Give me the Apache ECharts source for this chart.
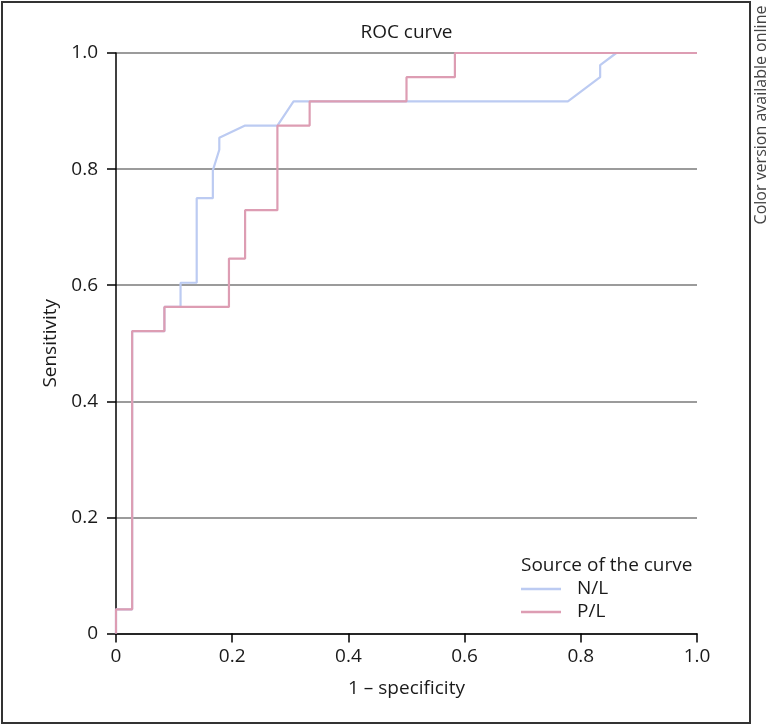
<!DOCTYPE html>
<html>
<head>
<meta charset="utf-8">
<script src="https://cdn.jsdelivr.net/npm/echarts@6/dist/echarts.min.js"></script>
<style>
html,body{margin:0;padding:0;background:#fff;}
#c{width:768px;height:725px;}
</style>
</head>
<body>
<div id="c"></div>
<script>
// Data (36 negatives, 48 positives)
const seriesNames = ['N/L', 'P/L'];
const nlX = [0, 0, 0.0278, 0.0278, 0.0833, 0.0833, 0.1111, 0.1111, 0.1389, 0.1389, 0.1667, 0.1667, 0.1778, 0.1778, 0.2222, 0.2778, 0.3056, 0.7778, 0.8333, 0.8333, 0.8611, 1.0];
const nlY = [0, 0.0417, 0.0417, 0.5208, 0.5208, 0.5625, 0.5625, 0.6042, 0.6042, 0.75, 0.75, 0.7979, 0.8333, 0.8542, 0.875, 0.875, 0.9167, 0.9167, 0.9583, 0.9792, 1.0, 1.0];
const plX = [0, 0, 0.0278, 0.0278, 0.0833, 0.0833, 0.1944, 0.1944, 0.2222, 0.2222, 0.2778, 0.2778, 0.3333, 0.3333, 0.5, 0.5, 0.5833, 0.5833, 1.0];
const plY = [0, 0.0417, 0.0417, 0.5208, 0.5208, 0.5625, 0.5625, 0.6458, 0.6458, 0.7292, 0.7292, 0.875, 0.875, 0.9167, 0.9167, 0.9583, 0.9583, 1.0, 1.0];
const tickValues = [0, 0.2, 0.4, 0.6, 0.8, 1.0];
const tickLabels = ['0', '0.2', '0.4', '0.6', '0.8', '1.0'];

const FONT = '"Open Sans", "Noto Sans", sans-serif';
const zip = (xs, ys) => xs.map((x, i) => [x, ys[i]]);
const fmt = v => {
  const i = tickValues.findIndex(t => Math.abs(t - v) < 1e-9);
  return i >= 0 ? tickLabels[i] : '';
};

const chart = echarts.init(document.getElementById('c'), null, {renderer: 'canvas'});
chart.setOption({
  animation: false,
  backgroundColor: '#fff',
  color: ['#bccbf2', '#dd9db3'],
  grid: {left: 116, right: 71, top: 53, bottom: 91.5, containLabel: false},
  xAxis: {
    type: 'value', min: 0, max: 1, interval: 0.2,
    name: '1 – specificity', nameLocation: 'middle', nameGap: 46,
    nameTextStyle: {fontFamily: FONT, fontSize: 19, color: '#1a1a1a'},
    axisLine: {show: true, lineStyle: {color: '#000', width: 1.5}},
    axisTick: {show: true, length: 9, lineStyle: {color: '#000', width: 1.5}},
    axisLabel: {formatter: fmt, margin: 14, fontFamily: FONT, fontSize: 19, color: '#1a1a1a'},
    splitLine: {show: false}
  },
  yAxis: {
    type: 'value', min: 0, max: 1, interval: 0.2,
    name: 'Sensitivity', nameLocation: 'middle', nameGap: 52, nameRotate: 90,
    nameTextStyle: {fontFamily: FONT, fontSize: 19, color: '#1a1a1a'},
    axisLine: {show: true, lineStyle: {color: '#000', width: 1.5}},
    axisTick: {show: true, length: 9, lineStyle: {color: '#000', width: 1.5}},
    axisLabel: {formatter: fmt, margin: 18, fontFamily: FONT, fontSize: 19, color: '#1a1a1a'},
    splitLine: {show: true, lineStyle: {color: '#7a7a7a', width: 1.5}}
  },
  legend: {
    data: seriesNames,
    orient: 'vertical', left: 521, top: 579,
    icon: 'rect', itemWidth: 40, itemHeight: 2.5, itemGap: 3,
    textStyle: {fontFamily: FONT, fontSize: 19, color: '#1a1a1a', lineHeight: 20, padding: [0, 0, 0, 11]},
    padding: 0
  },
  graphic: [
    {type: 'rect', shape: {x: 2, y: 2, width: 748, height: 721}, style: {fill: 'none', stroke: '#333', lineWidth: 2}, silent: true},
    {type: 'text', x: 406.5, y: 33, style: {text: 'ROC curve', fontFamily: FONT, fontSize: 19, fill: '#1a1a1a', align: 'center', verticalAlign: 'middle'}},
    {type: 'text', x: 521, y: 566, style: {text: 'Source of the curve', fontFamily: FONT, fontSize: 19, fill: '#1a1a1a', align: 'left', verticalAlign: 'middle'}},
    {type: 'text', x: 761, y: 115, rotation: Math.PI / 2, style: {text: 'Color version available online', fontFamily: FONT, fontSize: 16, fill: '#444', align: 'center', verticalAlign: 'middle'}}
  ],
  series: [
    {name: 'N/L', type: 'line', data: zip(nlX, nlY), showSymbol: false, symbol: 'none', z: 2, lineStyle: {width: 2.2}},
    {name: 'P/L', type: 'line', data: zip(plX, plY), showSymbol: false, symbol: 'none', z: 3, lineStyle: {width: 2.2}}
  ]
});
</script>
</body>
</html>
